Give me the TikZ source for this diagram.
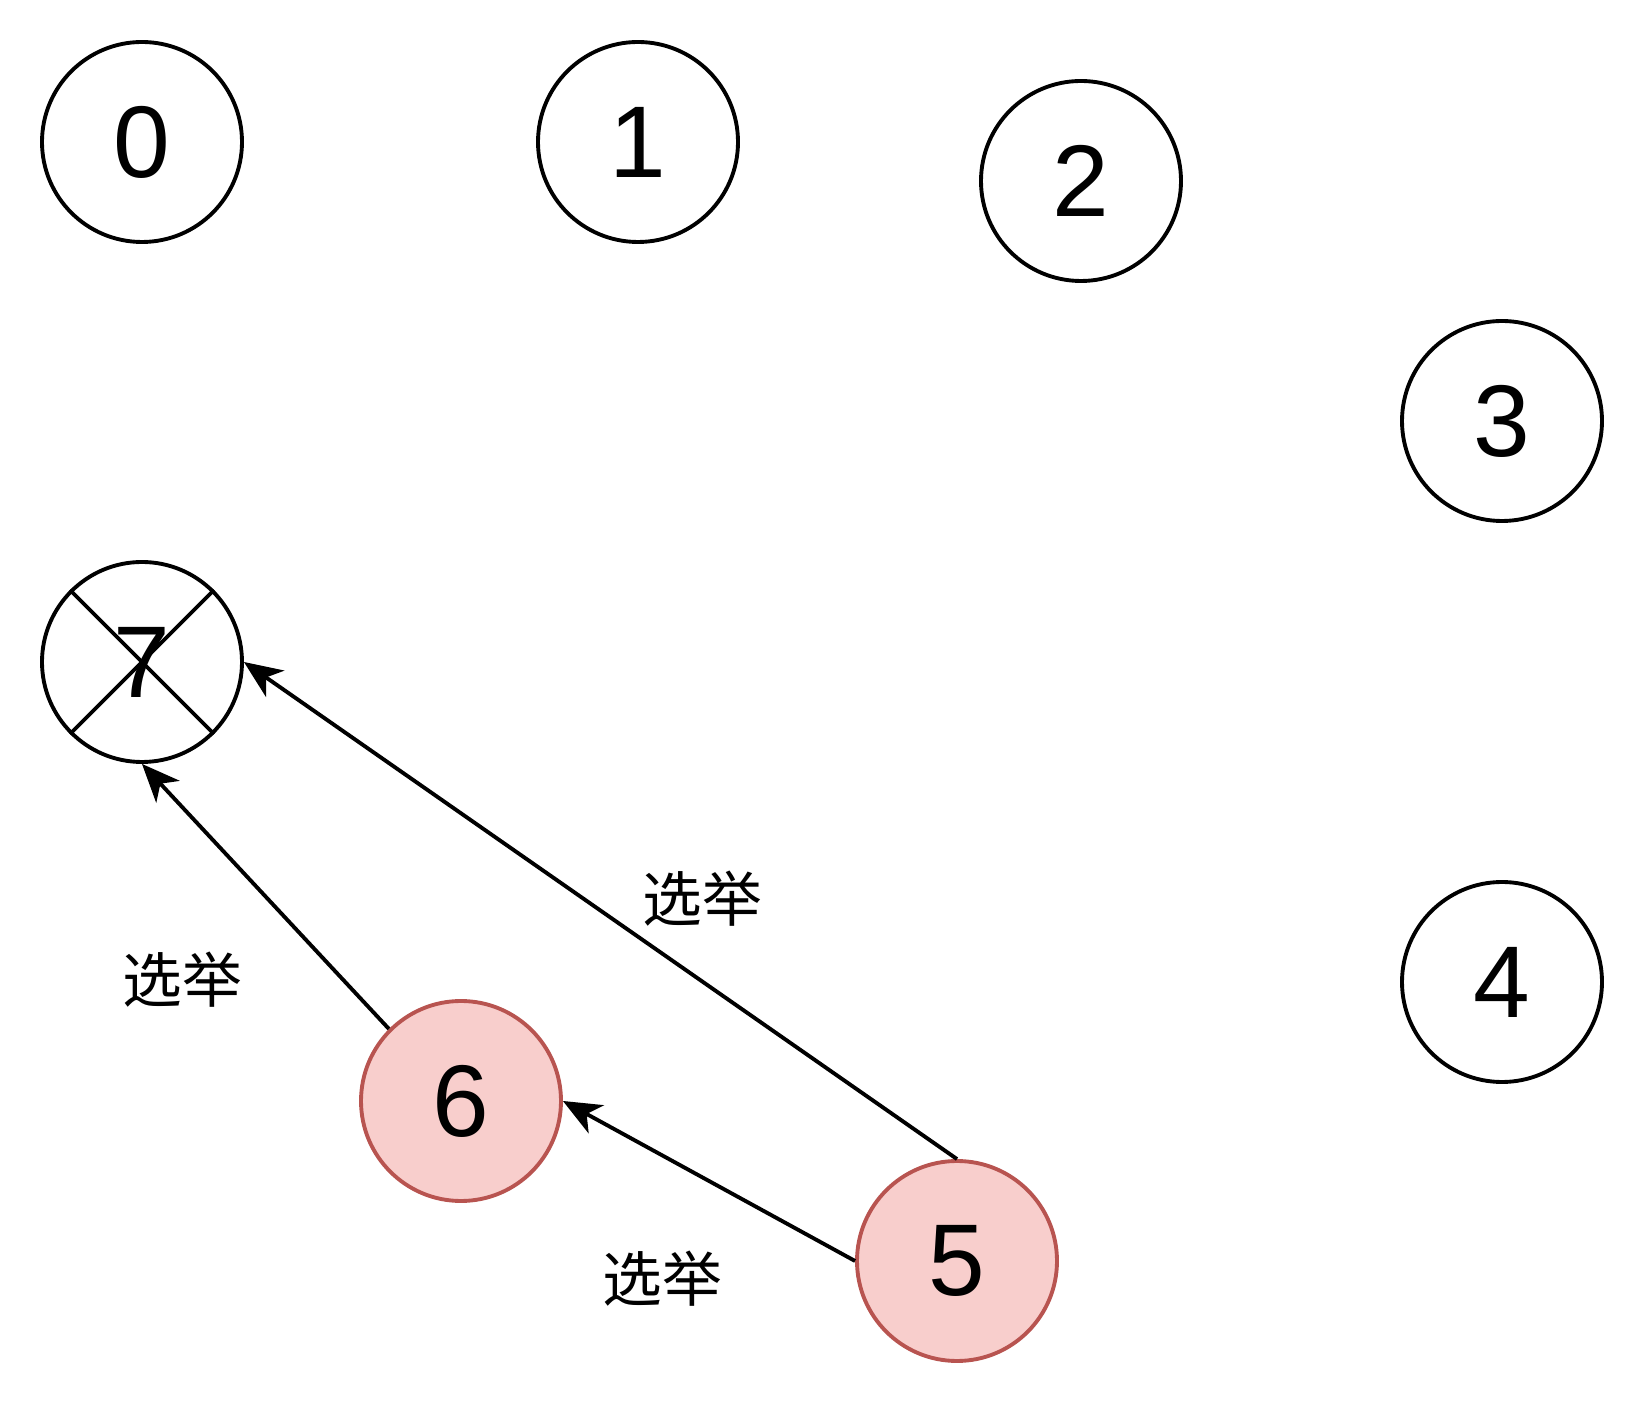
\documentclass[tikz,border=0pt]{standalone}
\usepackage{fontspec}
\setmainfont{Liberation Sans}
\newfontfamily\cjk{Noto Sans CJK SC}
\usetikzlibrary{arrows.meta}
\usepackage{xcolor}
\definecolor{redfill}{HTML}{F8CECC}
\definecolor{redline}{HTML}{B85450}
\tikzset{
  srv/.style={circle, draw=black, line width=1.1pt, fill=white, minimum size=2cm, inner sep=0pt, font=\fontsize{29}{30}\selectfont},
  redsrv/.style={srv, draw=redline, fill=redfill},
  vote/.style={-{Stealth[length=3.8mm, width=3.2mm, inset=1.1mm]}, line width=1.1pt, draw=black},
  lbl/.style={font=\cjk\fontsize{17}{18}\selectfont, inner sep=0pt}
}
\begin{document}
\begin{tikzpicture}
  \useasboundingbox (0,0) rectangle (16.48,-14.04);
  \node[srv] (n0) at (1.42,-1.42) {0};
  \node[srv] (n1) at (6.38,-1.42) {1};
  \node[srv] (n2) at (10.81,-1.81) {2};
  \node[srv] (n3) at (15.02,-4.21) {3};
  \node[srv] (n4) at (15.02,-9.82) {4};
  \node[srv] (n7) at (1.42,-6.62) {7};
  \draw[line width=1.1pt] (n7.north west) -- (n7.south east);
  \draw[line width=1.1pt] (n7.north east) -- (n7.south west);
  \node[redsrv] (n6) at (4.61,-11.01) {6};
  \node[redsrv] (n5) at (9.57,-12.61) {5};
  \draw[vote] (n6.135) -- (n7.south);
  \draw[vote] (n5.north) -- (n7.east);
  \draw[vote] (n5.west) -- (n6.east);
  \node[lbl] (l67) at (1.82,-9.80) {选举};
  \node[lbl] (l57) at (7.02,-8.99) {选举};
  \node[lbl] (l56) at (6.62,-12.79) {选举};
\end{tikzpicture}
\end{document}
